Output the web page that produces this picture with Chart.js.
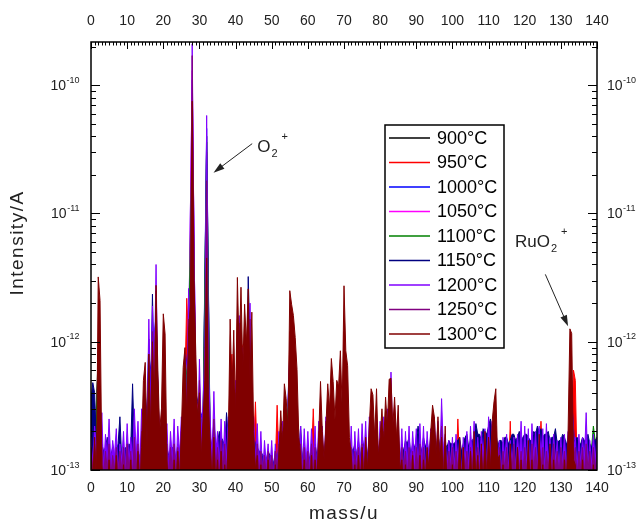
<!DOCTYPE html>
<html>
<head>
<meta charset="utf-8">
<script src="https://cdn.jsdelivr.net/npm/chart.js@4.4.1/dist/chart.umd.min.js"></script>
<style>
  html, body { margin: 0; padding: 0; background: #fff; overflow: hidden; }
  #wrap { width: 680px; height: 524px; }
</style>
</head>
<body>
<div id="wrap"><canvas id="chart" width="680" height="524"></canvas></div>
<script>
// intensities are written in units of 1e-13 A (1 = bottom of the axis)
const UNIT = 1e-13;
const massMin = 0, massMax = 140;
const yMin = 1e-13, yMax = 2.17e-10;
const massTicks = [0, 10, 20, 30, 40, 50, 60, 70, 80, 90, 100, 110, 120, 130, 140];
const decades = [-13, -12, -11, -10];

const labels = ['900°C', '950°C', '1000°C', '1050°C', '1100°C', '1150°C', '1200°C', '1250°C', '1300°C'];
const colors = ['#000000', '#ff0000', '#0000ff', '#ff00ff', '#008000', '#000080', '#8000ff', '#800080', '#800000'];
// mass step of each scan (u)
const steps = [1, 0.5, 1, 1, 1, 0.5, 0.5, 0.5, 0.5];

const i900 = [
  1.2,1.4,8.0,1.1,1.0,1.2,1.1,1.0,1.2,1.1,
  1.0,1.1,1.2,1.1,1.3,2.0,4.0,6.0,14,1.2,
  4.0,1.1,1.0,1.2,1.1,1.3,4.0,8.0,380,3.0,
  2.5,2.0,400,1.3,1.5,1.1,1.2,1.1,1.6,4.0,
  3.0,8.0,6.0,3.0,10,1.3,1.1,1.0,1.1,1.0,
  1.1,1.0,1.2,1.3,1.5,6.0,4.0,1.6,1.1,1.0,
  1.1,1.2,1.0,1.3,1.2,1.4,1.6,1.3,1.4,2.0,
  5.0,1.4,1.1,1.0,1.2,1.1,1.2,1.3,1.4,1.5,
  1.2,1.4,1.6,1.5,1.3,1.2,1.1,1.0,1.2,1.1,
  1.0,1.2,1.1,1.0,1.3,1.4,1.3,1.2,1.1,1.0,
  1.1,1.0,1.2,1.1,1.0,1.2,1.1,1.3,1.2,1.1,
  1.2,1.3,1.8,1.1,1.0,1.2,1.1,1.0,1.2,1.1,
  1.0,1.2,1.1,1.3,1.2,1.1,1.0,1.2,1.1,1.0,
  1.1,1.2,1.6,3.0,1.2,1.1,1.0,1.2,1.1,1.0,
  1.1
];
const i950 = [
  1.1,0.8, 1.2,0.9, 6.0,3.0, 1.0,0.8, 1.1,0.8, 1.0,0.9, 1.1,0.8, 1.0,0.8, 1.2,0.9, 1.0,0.8,
  1.1,0.8, 1.0,0.9, 1.2,0.8, 1.0,0.8, 1.3,1.5, 3.0,1.5, 5.0,2.0, 8.0,3.0, 16,4.0, 1.5,1.0,
  8.0,3.0, 1.2,0.8, 1.1,0.9, 1.0,0.8, 1.2,0.9, 1.5,2.0, 5.0,21.8, 10,15, 600,30, 5.0,2.0,
  3.0,1.2, 2.0,4.0, 300,3.0, 1.5,0.9, 1.6,0.8, 1.2,0.9, 1.1,0.8, 1.2,0.9, 1.5,6.0, 8.0,3.0,
  3.0,15, 12,10, 9.0,4.0, 3.0,12, 9.0,2.0, 1.5,3.4, 1.2,0.8, 1.1,0.9, 1.0,0.8, 1.1,0.8,
  1.0,0.9, 1.1,3.2, 1.2,1.5, 1.3,2.0, 2.0,1.5, 12,9.0, 8.0,4.0, 3.0,1.0, 1.2,0.8, 1.1,0.9,
  1.0,0.8, 1.2,3.0, 1.1,0.8, 1.3,2.0, 1.2,0.9, 1.5,2.0, 2.0,3.0, 2.0,2.0, 2.0,2.0, 3.0,1.5,
  12,3.0, 2.5,1.0, 1.1,0.8, 1.0,0.9, 1.1,0.8, 1.2,0.9, 1.3,0.8, 1.5,2.0, 1.8,1.2, 2.0,1.0,
  1.5,1.5, 1.4,1.8, 1.8,2.4, 2.4,1.2, 1.8,1.0, 1.6,0.9, 1.1,0.8, 1.0,0.9, 1.1,0.8, 1.0,0.8,
  1.1,0.9, 1.0,0.8, 1.2,0.9, 1.1,0.8, 1.3,1.6, 1.5,1.0, 1.4,0.9, 1.3,0.8, 1.1,0.9, 1.0,0.8,
  1.1,0.8, 1.0,2.5, 1.1,0.9, 1.0,0.8, 1.2,0.9, 1.1,0.8, 1.0,0.9, 1.2,0.8, 1.1,0.8, 1.0,0.9,
  1.2,0.8, 1.4,1.5, 2.0,1.0, 1.1,0.8, 1.0,0.9, 1.1,0.8, 2.4,0.9, 1.0,0.8, 1.1,0.9, 1.0,0.8,
  1.1,0.9, 1.0,0.8, 1.2,0.9, 1.1,0.8, 1.3,2.4, 1.2,0.8, 1.1,0.9, 1.0,0.8, 1.1,0.8, 1.0,0.9,
  1.1,0.8, 1.0,0.9, 1.2,1.6, 1.8,6.0, 5.0,1.0, 1.1,0.8, 1.0,0.9, 1.1,0.8, 1.2,0.9, 1.0,0.8,
  1.0
];
const i1000 = [
  1.4,1.6,5.0,1.2,1.1,1.3,1.2,1.1,1.3,1.2,
  1.1,1.2,1.3,1.2,1.4,2.2,5.0,8.0,16,1.3,
  5.0,1.2,1.1,1.3,1.2,1.5,5.0,10,1100,4.0,
  3.0,2.5,460,1.4,1.8,1.2,1.3,1.2,1.8,5.0,
  3.5,10,7.0,3.5,14,1.4,1.2,1.1,1.2,1.1,
  1.2,1.1,1.3,1.4,1.6,8.0,5.0,1.8,1.2,1.1,
  1.2,1.3,1.1,1.4,1.3,1.5,1.8,1.4,1.5,2.2,
  6.0,1.5,1.2,1.1,1.3,1.2,1.3,1.4,1.5,1.6,
  1.3,1.5,1.8,1.6,1.4,1.3,1.2,1.1,1.3,1.2,
  1.1,1.3,1.2,1.1,1.4,1.5,1.4,1.3,1.2,1.1,
  1.2,1.1,1.3,1.2,1.1,1.3,1.2,1.4,1.3,1.2,
  1.3,1.4,2.0,1.2,1.1,1.3,1.2,1.1,1.3,1.2,
  1.1,1.3,1.2,1.4,1.3,1.2,1.1,1.3,1.2,1.1,
  1.2,1.3,1.8,3.5,1.3,1.2,1.1,1.3,1.2,1.1,
  1.2
];
const i1050 = [
  1.3,1.5,6.0,1.2,1.0,1.2,1.1,1.0,1.2,1.1,
  1.0,1.1,1.2,1.1,1.3,2.0,4.5,7.0,15,1.2,
  4.5,1.1,1.0,1.2,1.1,1.4,4.5,9.0,1300,3.5,
  2.8,2.2,130,1.3,1.6,1.1,1.2,1.1,1.7,4.5,
  3.2,9.0,6.5,3.2,12,1.3,1.1,1.0,1.1,1.0,
  1.0,1.1,1.2,1.3,1.5,7.0,4.5,1.6,1.1,1.0,
  1.2,1.1,1.0,1.2,1.3,1.4,1.7,1.3,1.5,2.1,
  5.5,1.4,1.2,1.0,1.1,1.2,1.1,1.3,1.5,1.4,
  1.3,1.4,1.7,1.5,1.3,1.2,1.0,1.1,1.2,1.0,
  1.1,1.2,1.0,1.1,1.3,1.4,1.2,1.3,1.0,1.1,
  1.0,1.1,1.2,1.0,1.1,1.2,1.0,1.3,1.1,1.2,
  1.3,1.2,1.9,1.1,1.0,1.1,1.2,1.0,1.1,1.2,
  1.1,1.0,1.2,1.3,1.1,1.2,1.0,1.1,1.2,1.0,
  1.2,1.1,1.7,3.2,1.1,1.2,1.0,1.1,1.2,1.0,
  1.2
];
const i1100 = [
  1.5,1.3,7.0,1.1,1.2,1.0,1.3,1.1,1.0,1.2,
  1.1,1.0,1.3,1.2,1.4,2.2,4.0,6.5,13,1.3,
  4.2,1.2,1.1,1.0,1.2,1.5,4.2,8.5,500,3.2,
  2.6,2.4,360,1.2,1.4,1.2,1.1,1.3,1.6,4.2,
  3.4,8.5,6.2,3.4,11,1.4,1.2,1.1,1.0,1.1,
  1.2,1.0,1.1,1.2,1.4,6.5,4.2,1.5,1.2,1.1,
  1.0,1.3,1.2,1.1,1.4,1.3,1.6,1.4,1.3,2.0,
  5.2,1.3,1.0,1.2,1.1,1.0,1.3,1.2,1.4,1.6,
  1.4,1.3,1.6,1.7,1.2,1.1,1.2,1.0,1.1,1.2,
  1.2,1.1,1.3,1.2,1.2,1.3,1.5,1.1,1.2,1.0,
  1.2,1.2,1.0,1.1,1.2,1.1,1.3,1.2,1.0,1.1,
  1.1,1.4,1.7,1.2,1.1,1.0,1.1,1.2,1.0,1.1,
  1.2,1.1,1.0,1.2,1.4,1.0,1.2,1.1,1.0,1.2,
  1.0,1.2,1.5,2.8,1.2,1.0,1.2,1.1,1.0,2.2,
  1.3
];
const i1150 = [
  3.5,4.8, 4.0,1.5, 1.5,1.2, 1.6,1.4, 1.5,1.8, 1.4,1.3, 1.5,1.2, 1.4,1.6, 2.6,1.2, 1.4,1.5,
  1.3,1.6, 1.5,4.7, 1.6,1.3, 1.4,1.2, 1.5,1.8, 2.0,3.0, 10.5,4.0, 23.5,5.0, 12,2.0, 1.5,1.3,
  4.0,1.6, 1.5,1.3, 1.4,1.5, 1.5,1.2, 1.6,1.4, 1.8,2.0, 4.0,3.0, 10,8.0, 160,20, 3.0,1.5,
  4.0,1.6, 2.0,6.7, 67,4.0, 1.8,1.5, 2.4,1.6, 1.6,2.0, 1.8,1.7, 1.5,2.8, 1.8,2.0, 3.0,1.6,
  3.0,2.0, 8.0,3.0, 6.0,2.5, 4.0,32.2, 10,2.0, 1.8,1.6, 1.5,1.4, 1.4,1.3, 1.3,1.2, 1.4,1.3,
  1.3,1.1, 1.4,1.2, 1.5,1.1, 1.6,1.3, 2.0,1.4, 6.0,2.0, 4.0,1.8, 1.8,1.3, 2.2,1.2, 1.6,1.1,
  1.5,1.2, 1.4,1.1, 1.6,1.3, 1.5,1.2, 1.6,1.4, 1.8,1.3, 2.0,1.5, 1.8,1.2, 1.7,1.3, 2.5,1.4,
  3.0,1.3, 1.6,1.2, 1.5,1.4, 1.6,1.3, 1.7,1.2, 1.8,1.5, 1.6,1.3, 1.7,1.4, 1.8,1.2, 2.0,1.3,
  1.8,1.4, 1.9,1.3, 2.0,1.6, 3.0,1.4, 2.2,1.3, 1.8,1.2, 1.6,1.4, 1.7,1.6, 1.8,1.3, 1.6,1.5,
  1.7,2.2, 1.6,1.4, 1.8,1.5, 1.7,1.3, 1.8,1.6, 2.0,1.4, 1.9,1.5, 2.2,1.3, 1.6,1.5, 1.7,1.6,
  1.6,1.6, 1.7,1.7, 1.8,1.4, 1.6,1.8, 1.9,1.5, 1.7,1.7, 1.8,2.3, 1.9,1.9, 1.7,2.1, 2.0,1.9,
  2.2,2.5, 2.0,1.9, 1.9,1.5, 1.7,1.7, 1.6,1.8, 1.8,1.6, 1.7,1.9, 1.9,1.7, 1.8,2.0, 1.7,1.8,
  1.9,1.9, 1.8,1.7, 1.7,2.0, 1.9,2.2, 2.0,2.1, 1.8,1.9, 1.9,2.0, 1.7,1.8, 1.8,2.1, 1.6,1.7,
  1.7,1.9, 1.8,1.6, 1.6,2.0, 2.5,1.7, 1.7,1.8, 1.6,1.6, 1.8,1.7, 1.7,1.9, 1.6,1.5, 1.7,1.7,
  1.8
];
const i1200 = [
  1.8,1.1, 2.2,1.5, 2.0,1.2, 2.8,1.0, 1.9,1.2, 2.5,1.1, 1.7,1.3, 2.1,0.9, 1.6,1.2, 2.0,1.0,
  2.3,1.1, 1.8,1.2, 3.0,1.3, 2.4,1.0, 3.0,1.4, 3.5,2.0, 15,3.0, 19,5.0, 40,4.0, 1.9,1.2,
  6.0,1.5, 2.3,1.0, 2.0,1.2, 2.5,0.9, 2.2,1.3, 2.6,1.5, 8.0,3.0, 26,12, 2100,60, 4.5,1.5,
  7.3,2.0, 3.2,9.0, 580,6.0, 2.4,1.2, 4.1,1.3, 2.0,1.1, 2.5,1.0, 2.4,1.2, 2.6,1.4, 6.0,2.0,
  5.0,2.5, 16,4.0, 9.0,2.0, 7.0,3.0, 20,2.6, 2.6,1.2, 2.3,1.0, 2.0,0.9, 1.7,1.1, 1.6,1.0,
  1.7,0.9, 1.6,1.0, 2.0,1.1, 2.4,1.0, 3.0,1.5, 8.0,2.0, 5.0,1.6, 2.6,1.2, 2.2,1.0, 2.1,1.1,
  2.0,1.0, 2.1,1.2, 2.2,0.9, 2.4,1.1, 2.2,1.0, 2.6,1.3, 2.8,1.2, 2.4,1.0, 2.6,1.3, 3.0,1.4,
  4.0,1.3, 2.1,1.0, 2.2,0.9, 2.0,1.1, 2.1,1.0, 2.3,1.2, 2.4,1.0, 2.6,1.3, 2.3,1.1, 2.8,1.2,
  2.4,1.0, 2.6,1.2, 3.0,1.4, 5.8,1.6, 3.2,1.1, 2.6,1.0, 2.1,0.9, 2.0,1.1, 2.2,1.0, 2.0,1.2,
  2.1,1.0, 2.3,1.1, 2.2,0.9, 2.0,1.2, 2.1,1.0, 2.6,1.3, 2.4,1.1, 3.6,1.4, 1.9,1.0, 1.7,1.1,
  1.8,1.0, 1.9,1.2, 1.7,0.9, 1.8,1.1, 2.0,1.0, 2.2,1.2, 2.4,1.0, 1.8,1.1, 2.0,1.3, 2.1,1.0,
  2.6,1.2, 2.4,1.0, 1.8,1.1, 1.7,0.9, 1.8,1.2, 1.9,1.0, 1.7,1.1, 1.8,1.0, 1.9,1.2, 2.4,1.0,
  2.2,1.1, 2.1,0.9, 2.3,1.2, 2.0,1.0, 2.2,1.3, 2.1,1.0, 2.3,1.1, 1.8,1.0, 1.9,1.2, 1.7,1.0,
  1.8,1.1, 1.9,1.0, 2.0,1.3, 3.9,1.4, 1.8,1.0, 1.9,1.1, 1.8,1.2, 2.8,1.0, 1.7,1.1, 1.9,1.2,
  1.8
];
const i1250 = [
  1.5,1.0, 1.6,1.1, 2.4,1.2, 1.5,0.9, 1.4,1.0, 1.6,0.9, 1.3,1.0, 1.5,0.9, 1.4,1.0, 1.5,0.9,
  1.6,1.0, 1.4,0.9, 1.8,1.0, 1.6,0.9, 2.0,1.1, 2.5,1.3, 8.0,2.0, 12,3.0, 25,3.0, 1.5,1.0,
  5.0,1.2, 1.6,0.9, 1.5,1.0, 1.6,0.9, 1.5,1.0, 2.0,1.2, 6.0,2.0, 15,8.0, 1700,40, 3.5,1.3,
  5.0,1.5, 2.0,4.0, 180,4.0, 1.6,1.0, 2.5,1.0, 1.5,0.9, 1.7,1.0, 1.6,0.9, 2.0,1.2, 6.0,2.0,
  4.0,2.0, 14,3.0, 8.0,2.0, 5.0,2.0, 15,2.0, 1.8,1.0, 1.6,0.9, 1.4,1.0, 1.3,0.9, 1.4,1.0,
  1.3,0.9, 1.4,1.0, 1.6,1.0, 2.0,1.0, 2.4,1.2, 10,2.0, 6.0,1.5, 2.4,1.1, 1.6,0.9, 1.5,1.0,
  1.4,0.9, 1.6,1.0, 1.5,0.9, 2.0,1.0, 1.6,0.9, 2.4,1.1, 3.0,1.2, 2.0,1.0, 2.2,1.1, 3.5,1.3,
  6.0,1.4, 1.8,1.0, 1.5,0.9, 1.4,1.0, 1.5,0.9, 1.6,1.0, 1.5,0.9, 1.8,1.0, 1.8,1.1, 2.0,1.0,
  1.7,1.0, 2.0,1.0, 2.2,1.1, 3.0,1.2, 2.2,1.0, 1.8,0.9, 1.5,1.0, 1.4,0.9, 1.5,1.0, 1.4,0.9,
  1.5,1.0, 1.6,0.9, 1.5,1.0, 1.4,0.9, 1.6,1.0, 2.0,1.1, 1.8,1.0, 2.2,1.1, 1.5,0.9, 1.4,1.0,
  1.5,0.9, 1.4,1.0, 1.6,0.9, 1.5,1.0, 1.4,0.9, 1.5,1.0, 1.6,0.9, 1.5,1.0, 1.4,0.9, 1.6,1.0,
  1.8,1.0, 2.0,1.1, 2.2,1.0, 1.5,0.9, 1.4,1.0, 1.5,0.9, 1.4,1.0, 1.6,0.9, 1.5,1.0, 1.4,0.9,
  1.5,1.0, 1.4,0.9, 1.6,1.0, 1.5,0.9, 1.6,1.0, 1.5,0.9, 1.4,1.0, 1.5,0.9, 1.6,1.0, 1.4,0.9,
  1.5,1.0, 1.4,0.9, 1.6,1.0, 5.0,1.2, 1.5,0.9, 1.4,1.0, 1.5,0.9, 1.6,1.0, 1.4,0.9, 1.5,1.0,
  1.4
];
const i1300 = [
  1.5,0.8, 1.8,0.8, 32,21, 1.1,0.7, 0.9,0.7, 1.2,0.7, 0.8,0.7, 1.3,0.7, 0.9,0.7, 1.1,0.7,
  0.9,0.7, 1.2,0.7, 0.8,0.7, 1.4,0.7, 1.5,5.0, 6.9,1.5, 8.0,2.0, 10,3.0, 27.5,6.0, 2.0,3.0,
  16.5,11.5, 1.2,0.7, 0.9,0.7, 1.2,0.7, 1.4,0.8, 2.0,6.3, 9.0,2.5, 12.3,20, 750,30, 8.0,2.5,
  4.0,1.2, 2.5,5.0, 45,3.0, 1.6,0.8, 1.8,0.8, 1.2,0.7, 1.4,0.7, 1.1,0.8, 1.8,15, 4.0,12.3,
  2.5,31.7, 8.0,26.6, 6.0,19.6, 9.6,25.8, 5.0,17, 2.0,1.0, 1.3,0.7, 1.1,0.7, 0.9,0.7, 1.2,0.7,
  0.9,0.7, 1.1,0.7, 1.4,2.9, 1.6,4.7, 3.6,2.0, 25,19.6, 16,10.8, 6.1,1.8, 1.3,0.7, 1.2,0.7,
  1.0,0.7, 1.3,0.7, 1.2,0.8, 1.8,4.9, 2.0,1.2, 2.2,4.7, 3.0,7.4, 4.9,2.5, 5.0,4.5, 8.5,3.0,
  27.3,8.5, 6.5,1.8, 1.3,0.7, 1.1,0.7, 1.3,0.7, 1.5,0.8, 1.8,1.0, 2.2,4.3, 3.85,1.8, 4.3,1.3,
  1.8,3.0, 1.6,3.7, 2.2,5.1, 5.2,2.2, 3.7,1.8, 3.2,1.0, 1.2,0.7, 1.1,0.7, 0.9,0.7, 1.3,0.7,
  1.0,0.7, 1.3,0.7, 1.2,0.8, 1.5,1.0, 2.0,3.2, 2.6,1.3, 2.6,1.2, 1.8,0.8, 2.2,0.7, 1.0,0.7,
  1.1,0.7, 0.9,0.7, 1.8,0.7, 1.5,0.7, 1.0,0.7, 1.4,0.7, 2.0,0.8, 1.3,0.7, 1.6,0.7, 2.0,0.8,
  1.8,1.0, 2.4,3.4, 4.3,1.2, 1.3,0.7, 1.1,0.7, 0.9,0.7, 1.6,0.7, 1.0,0.7, 1.5,0.7, 1.2,0.7,
  1.0,0.7, 1.7,0.7, 1.2,0.7, 1.0,0.7, 1.9,0.8, 1.1,0.7, 1.0,0.7, 1.6,0.7, 1.2,0.7, 1.0,0.7,
  0.9,0.7, 1.2,0.7, 2.0,12.6, 11.6,1.2, 1.1,0.7, 0.9,0.7, 1.2,0.7, 1.0,0.7, 0.9,0.7, 1.1,0.7,
  1.0
];
const intensities = [i900, i950, i1000, i1050, i1100, i1150, i1200, i1250, i1300];

const FONT = "'Liberation Sans', Arial, sans-serif";

const datasets = labels.map((label, k) => ({
  label: label,
  data: intensities[k].map((v, i) => ({ x: i * steps[k], y: v * UNIT })),
  borderColor: colors[k],
  backgroundColor: colors[k],
  fill: 'start',
  borderWidth: 1,
  pointRadius: 0,
  tension: 0,
  order: labels.length - k   // later temperatures painted on top
}));

function drawPower(ctx, x, y, exp, align) {
  const base = '10', sup = String(exp);
  ctx.font = '14px ' + FONT;
  const wb = ctx.measureText(base).width;
  ctx.font = '9px ' + FONT;
  const ws = ctx.measureText(sup).width;
  const x0 = align === 'right' ? x - wb - ws : x;
  ctx.textAlign = 'left';
  ctx.textBaseline = 'alphabetic';
  ctx.font = '14px ' + FONT;
  ctx.fillText(base, x0, y + 5);
  ctx.font = '9px ' + FONT;
  ctx.fillText(sup, x0 + wb + 0.5, y - 2.5);
}

function drawIon(ctx, x, y, main) {
  ctx.textAlign = 'left';
  ctx.textBaseline = 'alphabetic';
  ctx.font = '17px ' + FONT;
  ctx.fillText(main, x, y);
  const w = ctx.measureText(main).width;
  ctx.font = '11px ' + FONT;
  ctx.fillText('2', x + w + 1, y + 5);
  ctx.fillText('+', x + w + 11, y - 12);
}

function arrow(ctx, x1, y1, x2, y2) {
  const ang = Math.atan2(y2 - y1, x2 - x1);
  ctx.beginPath();
  ctx.moveTo(x1, y1);
  ctx.lineTo(x2 - 6 * Math.cos(ang), y2 - 6 * Math.sin(ang));
  ctx.lineWidth = 1;
  ctx.stroke();
  ctx.beginPath();
  ctx.moveTo(x2, y2);
  ctx.lineTo(x2 - 11 * Math.cos(ang) + 3.5 * Math.sin(ang), y2 - 11 * Math.sin(ang) - 3.5 * Math.cos(ang));
  ctx.lineTo(x2 - 11 * Math.cos(ang) - 3.5 * Math.sin(ang), y2 - 11 * Math.sin(ang) + 3.5 * Math.cos(ang));
  ctx.closePath();
  ctx.fill();
}

const decor = {
  id: 'decor',
  afterDatasetsDraw(chart) {
    const { ctx, chartArea: a, scales } = chart;
    const sx = scales.x, sy = scales.y;
    ctx.save();
    ctx.strokeStyle = '#000';
    ctx.fillStyle = '#000';

    // inward tick marks
    ctx.lineWidth = 1;
    ctx.beginPath();
    for (let m = massMin; m <= massMax; m++) {
      const px = Math.round(sx.getPixelForValue(m)) + 0.5;
      const len = m % 10 === 0 ? 7 : 3.5;
      ctx.moveTo(px, a.top); ctx.lineTo(px, a.top + len);
    }
    decades.forEach(e => {
      for (let k = 1; k <= 9; k++) {
        const v = k * Math.pow(10, e);
        if (v > yMax) break;
        const py = Math.round(sy.getPixelForValue(v)) + 0.5;
        const len = k === 1 ? 9 : 5;
        ctx.moveTo(a.left, py); ctx.lineTo(a.left + len, py);
        ctx.moveTo(a.right, py); ctx.lineTo(a.right - len, py);
      }
    });
    ctx.stroke();

    // frame
    ctx.lineWidth = 1.5;
    ctx.strokeRect(a.left, a.top, a.right - a.left, a.bottom - a.top);

    // power-of-ten labels on both sides
    ctx.fillStyle = '#222';
    decades.forEach(e => {
      const py = sy.getPixelForValue(Math.pow(10, e));
      drawPower(ctx, a.left - 12, py, e, 'right');
      drawPower(ctx, a.right + 10, py, e, 'left');
    });

    // axis titles
    ctx.fillStyle = '#222';
    ctx.font = '19px ' + FONT;
    ctx.letterSpacing = '1.5px';
    ctx.textAlign = 'center';
    ctx.textBaseline = 'middle';
    ctx.fillText('mass/u', (a.left + a.right) / 2, 514);
    ctx.save();
    ctx.translate(18, 243);
    ctx.rotate(-Math.PI / 2);
    ctx.fillText('Intensity/A', 0, 0);
    ctx.restore();
    ctx.letterSpacing = '0px';

    // legend
    const lx = 385, ly = 125, lw = 119, lh = 223;
    ctx.fillStyle = '#fff';
    ctx.fillRect(lx, ly, lw, lh);
    ctx.lineWidth = 1.5;
    ctx.strokeStyle = '#000';
    ctx.strokeRect(lx, ly, lw, lh);
    chart.data.datasets.forEach((ds, i) => {
      const y = ly + 13 + i * 24.5;
      ctx.strokeStyle = ds.borderColor;
      ctx.lineWidth = 1.5;
      ctx.beginPath();
      ctx.moveTo(lx + 4, y); ctx.lineTo(lx + 45, y);
      ctx.stroke();
      ctx.fillStyle = '#000';
      ctx.font = '18px ' + FONT;
      ctx.textAlign = 'left';
      ctx.textBaseline = 'middle';
      ctx.fillText(ds.label, lx + 52, y + 1);
    });

    // annotations (placed in data coordinates)
    ctx.fillStyle = '#222';
    ctx.strokeStyle = '#222';
    drawIon(ctx, sx.getPixelForValue(46.0), sy.getPixelForValue(3.0e-11), 'O');
    arrow(ctx, sx.getPixelForValue(44.6), sy.getPixelForValue(3.5e-11),
               sx.getPixelForValue(33.9), sy.getPixelForValue(2.08e-11));
    drawIon(ctx, sx.getPixelForValue(117.3), sy.getPixelForValue(5.5e-12), 'RuO');
    arrow(ctx, sx.getPixelForValue(125.7), sy.getPixelForValue(3.35e-12),
               sx.getPixelForValue(132.0), sy.getPixelForValue(1.32e-12));
    ctx.restore();
  }
};

const xTicks = {
  color: '#222',
  font: { family: FONT, size: 14 },
  stepSize: 10,
  autoSkip: false,
  maxRotation: 0
};

new Chart(document.getElementById('chart').getContext('2d'), {
  type: 'line',
  data: { datasets: datasets },
  options: {
    responsive: false,
    animation: false,
    events: [],
    layout: { padding: 0 },
    plugins: { legend: { display: false }, tooltip: { enabled: false } },
    scales: {
      x: {
        type: 'linear', position: 'bottom', min: massMin, max: massMax,
        afterFit: s => { s.height = 54; },
        afterBuildTicks: s => { s.ticks = massTicks.map(v => ({ value: v })); },
        ticks: Object.assign({ padding: 10 }, xTicks),
        grid: { display: false, drawTicks: false },
        border: { display: false }
      },
      x2: {
        type: 'linear', position: 'top', min: massMin, max: massMax,
        afterFit: s => { s.height = 42; },
        afterBuildTicks: s => { s.ticks = massTicks.map(v => ({ value: v })); },
        ticks: Object.assign({ padding: 12 }, xTicks),
        grid: { display: false, drawTicks: false },
        border: { display: false }
      },
      y: {
        type: 'logarithmic', position: 'left', min: yMin, max: yMax,
        afterFit: s => { s.width = 91; },
        ticks: { display: false },
        grid: { display: false, drawTicks: false },
        border: { display: false }
      },
      y2: {
        type: 'logarithmic', position: 'right', min: yMin, max: yMax,
        afterFit: s => { s.width = 83; },
        ticks: { display: false },
        grid: { display: false, drawTicks: false },
        border: { display: false }
      }
    }
  },
  plugins: [decor]
});
</script>
</body>
</html>
